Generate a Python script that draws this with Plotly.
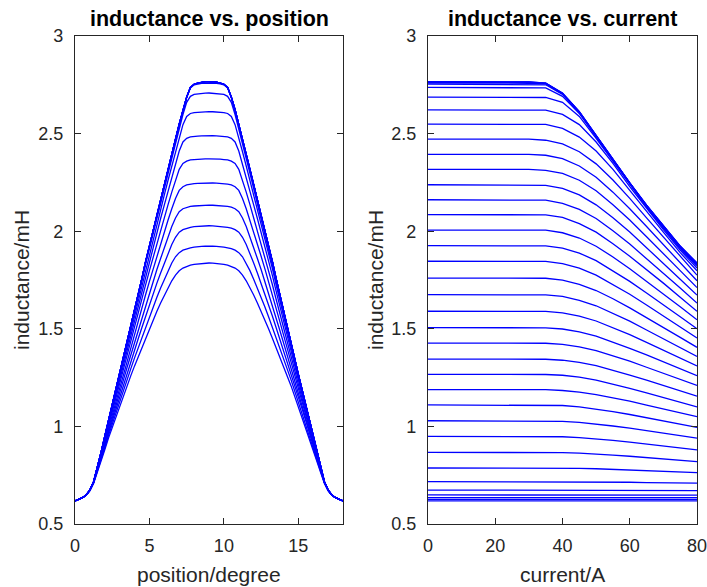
import plotly.graph_objects as go

# rotor position sweep (deg) and phase currents (A)
positions_full_deg = [0, 0.25, 0.5, 0.75, 1, 1.25, 1.5, 1.75, 2, 2.25, 2.5, 2.75, 3, 3.25, 3.5, 3.75,
                      4, 4.25, 4.5, 4.75, 5, 5.25, 5.5, 5.75, 6, 6.25, 6.5, 6.75, 7, 7.25, 7.5, 7.75,
                      8, 8.25, 8.5, 8.75, 9, 9.25, 9.5, 9.75, 10, 10.25, 10.5, 10.75, 11, 11.25, 11.5,
                      11.75, 12, 12.25, 12.5, 12.75, 13, 13.25, 13.5, 13.75, 14, 14.25, 14.5, 14.75,
                      15, 15.25, 15.5, 15.75, 16, 16.25, 16.5, 16.75, 17, 17.25, 17.5, 17.75, 18]
currents_A = [0, 5, 10, 15, 20, 25, 30, 35, 40, 45, 50, 55, 60, 65, 70, 75, 80]

# inductance (mH): one row per position 0..9 deg (step 0.25), one column per current
inductance_mH = [
    [0.618, 0.618, 0.618, 0.618, 0.618, 0.618, 0.618, 0.618, 0.618, 0.618, 0.618, 0.618, 0.618, 0.618, 0.618, 0.618, 0.618],
    [0.626, 0.626, 0.626, 0.626, 0.626, 0.626, 0.626, 0.626, 0.626, 0.626, 0.626, 0.626, 0.626, 0.626, 0.626, 0.626, 0.626],
    [0.635, 0.635, 0.635, 0.635, 0.635, 0.635, 0.635, 0.635, 0.635, 0.635, 0.635, 0.635, 0.635, 0.635, 0.635, 0.635, 0.635],
    [0.649, 0.649, 0.649, 0.649, 0.649, 0.649, 0.649, 0.649, 0.649, 0.649, 0.649, 0.649, 0.649, 0.649, 0.648, 0.648, 0.648],
    [0.674, 0.674, 0.674, 0.674, 0.674, 0.674, 0.674, 0.674, 0.674, 0.674, 0.673, 0.673, 0.673, 0.672, 0.672, 0.671, 0.671],
    [0.717, 0.717, 0.717, 0.717, 0.717, 0.717, 0.717, 0.717, 0.717, 0.716, 0.716, 0.715, 0.714, 0.712, 0.711, 0.710, 0.709],
    [0.787, 0.787, 0.787, 0.787, 0.787, 0.787, 0.787, 0.787, 0.786, 0.785, 0.783, 0.780, 0.777, 0.773, 0.770, 0.766, 0.763],
    [0.867, 0.867, 0.867, 0.867, 0.867, 0.867, 0.867, 0.867, 0.866, 0.863, 0.859, 0.853, 0.847, 0.840, 0.834, 0.827, 0.820],
    [0.949, 0.949, 0.949, 0.949, 0.949, 0.949, 0.949, 0.949, 0.947, 0.943, 0.937, 0.928, 0.919, 0.910, 0.900, 0.890, 0.880],
    [1.029, 1.029, 1.029, 1.029, 1.029, 1.029, 1.029, 1.029, 1.026, 1.021, 1.013, 1.002, 0.991, 0.978, 0.966, 0.953, 0.940],
    [1.110, 1.110, 1.110, 1.110, 1.110, 1.110, 1.110, 1.110, 1.107, 1.100, 1.089, 1.076, 1.061, 1.044, 1.028, 1.012, 0.995],
    [1.188, 1.188, 1.188, 1.188, 1.188, 1.188, 1.188, 1.188, 1.184, 1.176, 1.163, 1.147, 1.129, 1.109, 1.090, 1.070, 1.050],
    [1.267, 1.267, 1.267, 1.267, 1.267, 1.267, 1.267, 1.266, 1.262, 1.252, 1.237, 1.217, 1.195, 1.172, 1.148, 1.124, 1.100],
    [1.345, 1.345, 1.345, 1.345, 1.345, 1.345, 1.345, 1.344, 1.339, 1.328, 1.311, 1.288, 1.263, 1.237, 1.210, 1.183, 1.155],
    [1.427, 1.427, 1.427, 1.427, 1.427, 1.427, 1.427, 1.426, 1.420, 1.407, 1.388, 1.362, 1.334, 1.303, 1.273, 1.241, 1.210],
    [1.506, 1.506, 1.506, 1.506, 1.506, 1.506, 1.506, 1.505, 1.499, 1.484, 1.462, 1.432, 1.400, 1.366, 1.331, 1.296, 1.260],
    [1.590, 1.590, 1.590, 1.590, 1.590, 1.590, 1.590, 1.589, 1.582, 1.565, 1.540, 1.506, 1.470, 1.430, 1.391, 1.351, 1.310],
    [1.675, 1.675, 1.675, 1.675, 1.675, 1.675, 1.675, 1.674, 1.666, 1.646, 1.618, 1.580, 1.539, 1.494, 1.450, 1.404, 1.358],
    [1.760, 1.760, 1.760, 1.760, 1.760, 1.760, 1.760, 1.759, 1.749, 1.728, 1.696, 1.654, 1.607, 1.558, 1.508, 1.456, 1.405],
    [1.846, 1.846, 1.846, 1.846, 1.846, 1.846, 1.846, 1.845, 1.834, 1.811, 1.775, 1.728, 1.677, 1.622, 1.567, 1.510, 1.453],
    [1.926, 1.926, 1.926, 1.926, 1.926, 1.926, 1.926, 1.925, 1.913, 1.888, 1.849, 1.798, 1.743, 1.683, 1.624, 1.562, 1.500],
    [2.006, 2.006, 2.006, 2.006, 2.006, 2.006, 2.006, 2.005, 1.992, 1.965, 1.923, 1.868, 1.808, 1.744, 1.679, 1.613, 1.546],
    [2.085, 2.085, 2.085, 2.085, 2.085, 2.085, 2.085, 2.084, 2.071, 2.039, 1.995, 1.936, 1.872, 1.804, 1.734, 1.662, 1.590],
    [2.161, 2.161, 2.161, 2.161, 2.161, 2.161, 2.161, 2.159, 2.143, 2.112, 2.065, 2.002, 1.934, 1.860, 1.786, 1.709, 1.632],
    [2.238, 2.238, 2.238, 2.238, 2.238, 2.238, 2.238, 2.235, 2.219, 2.186, 2.135, 2.069, 1.996, 1.917, 1.837, 1.754, 1.673],
    [2.317, 2.317, 2.317, 2.317, 2.317, 2.317, 2.317, 2.312, 2.296, 2.261, 2.207, 2.136, 2.057, 1.972, 1.887, 1.798, 1.711],
    [2.394, 2.394, 2.394, 2.394, 2.394, 2.394, 2.394, 2.389, 2.372, 2.334, 2.276, 2.200, 2.115, 2.024, 1.932, 1.837, 1.746],
    [2.472, 2.472, 2.472, 2.472, 2.472, 2.472, 2.472, 2.466, 2.447, 2.407, 2.345, 2.262, 2.168, 2.068, 1.969, 1.869, 1.775],
    [2.549, 2.549, 2.549, 2.549, 2.549, 2.549, 2.548, 2.547, 2.527, 2.482, 2.411, 2.317, 2.209, 2.100, 1.995, 1.890, 1.797],
    [2.622, 2.622, 2.622, 2.622, 2.622, 2.622, 2.621, 2.620, 2.598, 2.546, 2.457, 2.347, 2.228, 2.115, 2.008, 1.903, 1.811],
    [2.687, 2.687, 2.687, 2.687, 2.687, 2.687, 2.686, 2.685, 2.660, 2.588, 2.476, 2.359, 2.237, 2.123, 2.016, 1.911, 1.820],
    [2.737, 2.737, 2.737, 2.737, 2.737, 2.737, 2.736, 2.734, 2.691, 2.603, 2.483, 2.365, 2.241, 2.127, 2.020, 1.915, 1.826],
    [2.753, 2.753, 2.753, 2.753, 2.753, 2.753, 2.752, 2.750, 2.701, 2.608, 2.486, 2.367, 2.244, 2.129, 2.023, 1.918, 1.830],
    [2.759, 2.759, 2.759, 2.759, 2.759, 2.759, 2.758, 2.755, 2.704, 2.610, 2.487, 2.369, 2.245, 2.131, 2.025, 1.921, 1.832],
    [2.763, 2.763, 2.763, 2.763, 2.763, 2.763, 2.762, 2.758, 2.706, 2.611, 2.488, 2.370, 2.246, 2.132, 2.026, 1.922, 1.835],
    [2.766, 2.766, 2.766, 2.766, 2.766, 2.766, 2.765, 2.759, 2.707, 2.612, 2.489, 2.371, 2.247, 2.133, 2.027, 1.923, 1.836],
    [2.766, 2.766, 2.766, 2.766, 2.766, 2.766, 2.765, 2.759, 2.708, 2.613, 2.490, 2.371, 2.248, 2.134, 2.028, 1.924, 1.837],
]

pos_ticks = [0, 5, 10, 15]
cur_ticks = [0, 20, 40, 60, 80]
y_ticks = [0.5, 1, 1.5, 2, 2.5, 3]
y_tick_text = ["0.5", "1", "1.5", "2", "2.5", "3"]

n_half = len(inductance_mH)          # positions 0..9 deg
positions_half_deg = positions_full_deg[:n_half]

BLUE = "rgb(0,0,255)"
AX = "#262626"
FONT = "Liberation Sans, Arial, Helvetica, sans-serif"

fig = go.Figure()

# left: inductance vs position, one curve per current (profile is symmetric about 9 deg)
for j, cur in enumerate(currents_A):
    col = [row[j] for row in inductance_mH]
    y_full = col + col[-2::-1]
    fig.add_trace(go.Scatter(x=positions_full_deg, y=y_full, mode="lines",
                             line=dict(color=BLUE, width=1.3), xaxis="x", yaxis="y",
                             name=f"{cur} A", hoverinfo="skip"))

# right: inductance vs current, one curve per position
for k, pos in enumerate(positions_half_deg):
    fig.add_trace(go.Scatter(x=currents_A, y=inductance_mH[k], mode="lines",
                             line=dict(color=BLUE, width=1.3), xaxis="x2", yaxis="y2",
                             name=f"{pos} deg", hoverinfo="skip"))

W, H = 707, 587
L1, R1 = 75, 343
L2, R2 = 428, 697
T, B = 36, 524

axis_common = dict(showline=True, linecolor=AX, linewidth=1.3, mirror="ticks",
                   ticks="inside", ticklen=6, tickwidth=1.3, tickcolor=AX,
                   showgrid=False, zeroline=False, ticklabeloverflow="allow",
                   tickfont=dict(family=FONT, size=18, color=AX))

fig.update_layout(
    width=W, height=H,
    margin=dict(l=0, r=0, t=0, b=0, autoexpand=False),
    paper_bgcolor="white", plot_bgcolor="white",
    showlegend=False,
    xaxis=dict(domain=[L1 / W, R1 / W], range=[0, 18], tickvals=pos_ticks, anchor="y",
               ticklabelstandoff=5, **axis_common),
    yaxis=dict(domain=[1 - B / H, 1 - T / H], range=[0.5, 3], tickvals=y_ticks,
               ticktext=y_tick_text, anchor="x", ticklabelstandoff=7, **axis_common),
    xaxis2=dict(domain=[L2 / W, R2 / W], range=[0, 80], tickvals=cur_ticks, anchor="y2",
                ticklabelstandoff=5, **axis_common),
    yaxis2=dict(domain=[1 - B / H, 1 - T / H], range=[0.5, 3], tickvals=y_ticks,
                ticktext=y_tick_text, anchor="x2", ticklabelstandoff=7, **axis_common),
)

def ann(text, xpx, ypx, size=20, angle=0, bold=False):
    fig.add_annotation(text=f"<b>{text}</b>" if bold else text,
                       x=xpx / W, y=1 - ypx / H, xref="paper", yref="paper",
                       xanchor="center", yanchor="middle", showarrow=False, textangle=angle,
                       font=dict(family=FONT, size=size, color="black" if bold else AX))

ann("inductance vs. position", (L1 + R1) / 2, 19, size=21.5, bold=True)
ann("inductance vs. current", (L2 + R2) / 2, 19, size=21.5, bold=True)
ann("position/degree", (L1 + R1) / 2, 574, size=21)
ann("current/A", (L2 + R2) / 2, 574, size=21)
ann("inductance/mH", 22, (T + B) / 2, size=21, angle=-90)
ann("inductance/mH", 376, (T + B) / 2, size=21, angle=-90)

fig.write_html("out.html")
